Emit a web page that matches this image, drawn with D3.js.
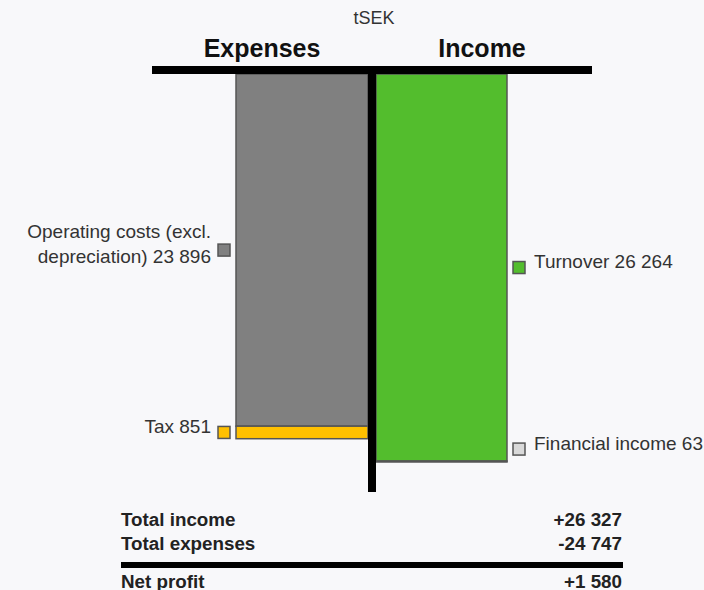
<!DOCTYPE html>
<html>
<head>
<meta charset="utf-8">
<script src="https://cdn.jsdelivr.net/npm/d3@7"></script>
<style>
  html, body { margin: 0; padding: 0; background: #f8f8fa; }
  svg { display: block; font-family: "Liberation Sans", Arial, sans-serif; }
</style>
</head>
<body>
<svg id="chart" width="704" height="590"></svg>
<script>
// ---- data ----
const unitLabel = "tSEK";
const sideTitles = ["Expenses", "Income"];
const expenseCategories = ["Operating costs (excl. depreciation)", "Tax"];
const expenseValues = [23896, 851];
const expenseColors = ["#808080", "#ffc000"];
const incomeCategories = ["Turnover", "Financial income"];
const incomeValues = [26264, 63];
const incomeColors = ["#53bd2d", "#d9d9d9"];
const summaryLabels = ["Total income", "Total expenses", "Net profit"];

// ---- helpers ----
const fmt = v => d3.format(",")(Math.abs(v)).replace(/,/g, " ");
const signed = v => (v >= 0 ? "+" : "-") + fmt(v);

const totalIncome = d3.sum(incomeValues);
const totalExpenses = d3.sum(expenseValues);
const netProfit = totalIncome - totalExpenses;

const svg = d3.select("#chart");

// layout
const centerX = 372, lineLeft = 152, lineRight = 592;
const topY = 74, barW = 132, gap = 4;
const labelSize = 19;
const y = d3.scaleLinear().domain([0, Math.max(totalIncome, totalExpenses)]).range([topY, 462]);

// titles
svg.append("text").attr("x", 374).attr("y", 24).attr("text-anchor", "middle")
  .attr("font-size", 18).attr("fill", "#333").text(unitLabel);
svg.selectAll("text.side").data(sideTitles).join("text").attr("class", "side")
  .attr("x", (d, i) => i === 0 ? (lineLeft + centerX) / 2 : (centerX + lineRight) / 2)
  .attr("y", 57).attr("text-anchor", "middle").attr("font-size", 25).attr("font-weight", "bold")
  .attr("fill", "#111").text(d => d);

function stack(cats, vals, cols) {
  let acc = 0;
  return cats.map((c, i) => {
    const d = { name: c, value: vals[i], color: cols[i], y0: acc, y1: acc + vals[i] };
    acc += vals[i];
    return d;
  });
}
const exp = stack(expenseCategories, expenseValues, expenseColors);
const inc = stack(incomeCategories, incomeValues, incomeColors);

const markerSize = 12;

function drawSide(data, side) {
  const x0 = side === "left" ? centerX - gap - barW : centerX + gap;
  const w = side === "left" ? barW : barW - 1;
  const g = svg.append("g");
  g.selectAll("rect.bar").data(data).join("rect").attr("class", "bar")
    .attr("x", x0).attr("width", w)
    .attr("y", d => y(d.y0)).attr("height", d => Math.max(0.9, y(d.y1) - y(d.y0)))
    .attr("fill", d => d.color).attr("stroke", "#555").attr("stroke-width", 1.5);

  data.forEach(d => {
    const top = y(d.y0), bot = y(d.y1), h = bot - top;
    const anchor = h < markerSize ? top - 12 : (top + bot) / 2;
    const mx = side === "left" ? x0 - 6 - markerSize : x0 + w + 6;
    g.append("rect").attr("x", mx).attr("y", anchor - markerSize / 2)
      .attr("width", markerSize).attr("height", markerSize)
      .attr("fill", d.color).attr("stroke", "#555").attr("stroke-width", 1.5);
    const tx = side === "left" ? mx - 7 : mx + markerSize + 9;
    const t = g.append("text").attr("x", tx).attr("font-size", labelSize).attr("fill", "#333")
      .attr("text-anchor", side === "left" ? "end" : "start");
    // word wrap
    const words = (d.name + " " + fmt(d.value)).split(" ");
    const lines = [];
    let cur = [];
    const probe = svg.append("text").attr("font-size", labelSize);
    words.forEach(wd => {
      const test = cur.concat([wd]).join(" ");
      probe.text(test);
      if (probe.node().getComputedTextLength() > 195 && cur.length) {
        lines.push(cur.join(" "));
        cur = [wd];
      } else cur.push(wd);
    });
    lines.push(cur.join(" "));
    probe.remove();
    const n = lines.length;
    lines.forEach((ln, i) => {
      t.append("tspan").attr("x", tx).attr("y", anchor + 0.5 + (i - (n - 1) / 2) * 25).text(ln);
    });
  });
}
drawSide(exp, "left");
drawSide(inc, "right");

// axis lines
svg.append("rect").attr("x", lineLeft).attr("y", 66).attr("width", lineRight - lineLeft).attr("height", 8).attr("fill", "#000");
svg.append("rect").attr("x", centerX - 4).attr("y", 66).attr("width", 8).attr("height", 492 - 66).attr("fill", "#000");

// summary table
const summaryValues = [totalIncome, -totalExpenses, netProfit];
const rowY = [526, 550, 588];
const tl = 121, tr = 622;
summaryLabels.forEach((lab, i) => {
  svg.append("text").attr("x", tl).attr("y", rowY[i]).attr("font-size", 18.8).attr("font-weight", "bold")
    .attr("fill", "#222").text(lab);
  svg.append("text").attr("x", tr).attr("y", rowY[i]).attr("font-size", 18.8).attr("font-weight", "bold")
    .attr("fill", "#222").attr("text-anchor", "end").text(signed(summaryValues[i]));
});
svg.append("rect").attr("x", tl).attr("y", 562).attr("width", tr + 1 - tl).attr("height", 6).attr("fill", "#000");
</script>
</body>
</html>
